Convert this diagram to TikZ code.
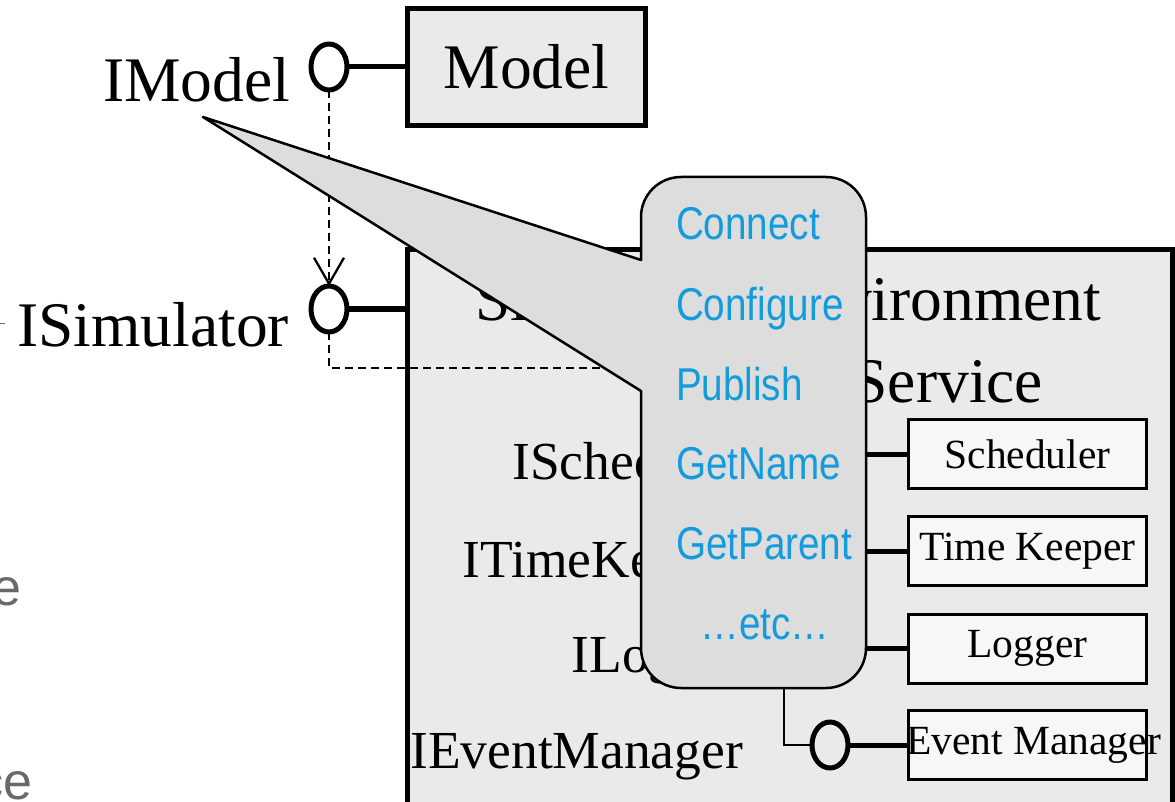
\documentclass[tikz,border=0pt]{standalone}
\usepackage{fontspec}
\setmainfont{Liberation Serif}
\newfontfamily\callfont[FakeStretch=0.84]{Liberation Sans}
\newfontfamily\sidefont{Liberation Sans}
\usetikzlibrary{shapes.geometric,arrows.meta}
\definecolor{calloutblue}{RGB}{20,155,220}
\definecolor{boxgray}{RGB}{234,234,234}
\definecolor{callgray}{RGB}{221,221,221}
\definecolor{smallfill}{RGB}{247,247,247}
\definecolor{sidegray}{RGB}{105,105,105}
\begin{document}
\begin{tikzpicture}[x=1pt,y=1pt,
  every node/.style={outer sep=0pt},
  bigtext/.style={font=\fontsize{63.5}{64}\selectfont, inner sep=0pt},
  iftext/.style={font=\fontsize{53.5}{54}\selectfont, inner sep=0pt},
  calltext/.style={font=\callfont\fontsize{46}{46}\selectfont, text=calloutblue, inner sep=0pt},
  sidetext/.style={font=\sidefont\fontsize{52}{52}\selectfont, text=sidegray, inner sep=0pt},
  lolli/.style={ellipse, draw, line width=5pt, minimum width=36pt, minimum height=46pt, inner sep=0pt},
  stick/.style={line width=5pt},
  thinlink/.style={line width=2.5pt},
  compbox/.style={draw, line width=3pt, fill=smallfill, minimum width=238pt, minimum height=69pt, inner sep=0pt},
  comptext/.style={font=\fontsize{41.5}{42}\selectfont, inner sep=0pt},
  depline/.style={line width=2.3pt, dash pattern=on 8pt off 5pt},
  deparrow/.style={-{Straight Barb[length=26pt,width=30pt,line width=2.3pt]}}]
\useasboundingbox (0,0) rectangle (1175,-802);
\clip (0,0) rectangle (1175,-802);

% cut-off texts at the left edge
\node[sidetext, anchor=base east] (side1) at (21,-605) {e};
\node[sidetext, anchor=base east] (side2) at (32,-799) {ce};
\draw[sidegray, line width=1pt] (0,-323) -- (5,-323);

% Model and its interface
\node[draw, line width=5pt, fill=boxgray, minimum width=238pt, minimum height=117pt, inner sep=0pt,
      font=\fontsize{63.5}{64}\selectfont] (model) at (526.5,-67) {Model};
\node[lolli] (lm) at (329,-67) {};
\draw[stick] (lm.east) -- (model.west);
\node[bigtext, anchor=base east] (imodel) at (290,-102) {IModel};

% Simulator interface
\node[lolli] (ls) at (329,-309) {};
\node[bigtext, anchor=base east] (isim) at (289,-346) {ISimulator};

% Simulation environment box
\node[draw, line width=5pt, fill=boxgray, minimum width=765pt, minimum height=700pt,
      inner sep=0pt, anchor=north west] (simenv) at (407.5,-250) {};
\draw[stick] (ls.east) -- (ls.east -| simenv.west);
\node[bigtext, anchor=base west] (title1) at (475,-320) {Simulation Environment};
\node[bigtext, anchor=base east] (title2) at (1043,-402) {Service};

\node[iftext, anchor=base east] (isched) at (744,-479) {IScheduler};
\node[iftext, anchor=base east] (itime) at (746,-577) {ITimeKeeper};
\node[iftext, anchor=base east] (ilog) at (744,-672) {ILogger};
\node[iftext, anchor=base east] (ievent) at (743,-768) {IEventManager};

% dependencies
\draw[depline, deparrow] (lm.south) -- (ls.north);
\coordinate (dend) at (690,-368);
\draw[depline] (ls.south) |- (dend);

% components
\node[compbox] (sched) at (1027.5,-454) {};
\node[comptext] at (sched.center) {Scheduler};
\node[compbox] (tkeep) at (1027.5,-551) {};
\node[comptext] at (tkeep.center) {Time Keeper};
\node[compbox] (logger) at (1027.5,-648.5) {};
\node[comptext] at (logger.center) {Logger};
\node[compbox] (evman) at (1027.5,-745) {};

\coordinate (hs) at (780,-454);
\coordinate (ht) at (780,-551);
\coordinate (hl) at (780,-648.5);
\draw[stick] (hs) -- (sched.west);
\draw[stick] (ht) -- (tkeep.west);
\draw[stick] (hl) -- (logger.west);

\node[lolli] (le) at (830,-745) {};
\coordinate (he) at (784,-660);
\draw[thinlink] (he) |- (le.west);
\draw[stick] (le.east) -- (evman.west);
\node[comptext] (emtext) at ([xshift=6pt]evman.center) {Event Manager};

% callout
\coordinate (tip) at (203,-117);
\draw[line width=2.5pt, fill=callgray, line join=round]
  (641,-260) -- (641,-217) arc[start angle=180, end angle=90, radius=40]
  -- (826,-177) arc[start angle=90, end angle=0, radius=40]
  -- (866,-648) arc[start angle=0, end angle=-90, radius=40]
  -- (681,-688) arc[start angle=270, end angle=180, radius=40]
  -- (641,-391) -- (tip) -- cycle;

\node[calltext, anchor=base west] (c1) at (676,-240) {Connect};
\node[calltext, anchor=base west] (c2) at (676,-320) {Configure};
\node[calltext, anchor=base west] (c3) at (676,-400) {Publish};
\node[calltext, anchor=base west] (c4) at (676,-479) {GetName};
\node[calltext, anchor=base west] (c5) at (676,-559) {GetParent};
\node[calltext, anchor=base] (c6) at (765,-639) {…etc…};
\end{tikzpicture}
\end{document}
